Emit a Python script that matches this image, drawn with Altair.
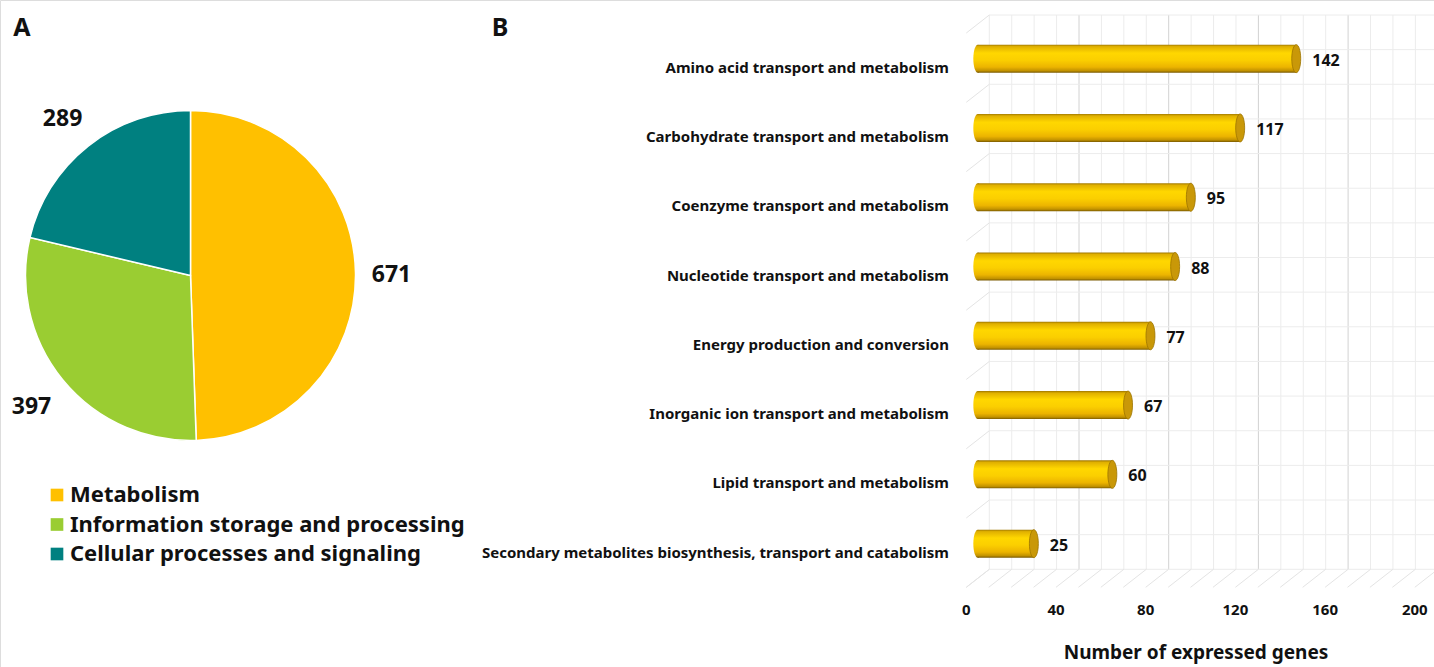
import altair as alt
import pandas as pd

# ---- Panel A: COG functional groups ----
groups = ["Metabolism", "Information storage and processing", "Cellular processes and signaling"]
group_counts = [671, 397, 289]
group_colors = ["#FFC000", "#9ACD32", "#008080"]

# ---- Panel B: metabolism sub-categories ----
categories = [
    "Amino acid transport and metabolism",
    "Carbohydrate transport and metabolism",
    "Coenzyme transport and metabolism",
    "Nucleotide transport and metabolism",
    "Energy production and conversion",
    "Inorganic ion transport and metabolism",
    "Lipid transport and metabolism",
    "Secondary metabolites biosynthesis, transport and catabolism",
]
gene_counts = [142, 117, 95, 88, 77, 67, 60, 25]
x_tick_values = [0, 40, 80, 120, 160, 200]
x_title = "Number of expressed genes"

FONT = "Noto Sans"
INK = "#111111"

# Scales for the 3D bar panel (back wall is the reference plane)
X_SCALE = alt.Scale(domain=[0, 200], range=[989.3, 1437.8], nice=False, zero=False, padding=0)
Y_SCALE = alt.Scale(domain=[0, 8], range=[15, 569.3], nice=False, zero=False, padding=0)
DEPTH_X, DEPTH_Y = -23, 18          # back wall -> front edge
MID_X, MID_Y = -11.5, 9             # back wall -> bar plane

pie_df = pd.DataFrame({"group": groups, "count": group_counts, "idx": range(len(groups))})
bar_df = pd.DataFrame({
    "category": categories,
    "n": gene_counts,
    "pos": [i + 0.5 for i in range(len(categories))],
})
bar_df["zero"] = 0

minor_x = list(range(0, 201, 10))
vgrid_df = pd.DataFrame({"v": minor_x, "y0": 0, "y1": 8})
hgrid_df = pd.DataFrame({"v": [i / 2 for i in range(17)], "x0": 0, "x1": 200})
side_df = pd.DataFrame({"v": list(range(9)), "x0": 0})
floor_df = pd.DataFrame({"v": minor_x, "yb": 8})
tick_df = pd.DataFrame({"v": x_tick_values, "label": [str(t) for t in x_tick_values]})

# ---------------- pie ----------------
pie = alt.Chart(pie_df).mark_arc(outerRadius=165, stroke="white", strokeWidth=1.5).encode(
    theta=alt.Theta("count:Q", stack=True),
    color=alt.Color(
        "group:N",
        scale=alt.Scale(domain=groups, range=group_colors),
        legend=alt.Legend(
            title=None, orient="none", legendX=46, legendY=484,
            symbolType="square", symbolSize=160, symbolStrokeWidth=0,
            labelFont=FONT, labelFontSize=22, labelFontWeight="bold", labelColor=INK,
            labelOffset=2, rowPadding=7.5, padding=0, labelLimit=600,
        ),
    ),
    order=alt.Order("idx:Q"),
    x=alt.value(190.5),
    y=alt.value(275.5),
)
pie_labels = alt.Chart(pie_df).mark_text(
    radius=203, font=FONT, fontSize=23, fontWeight="bold", color=INK
).encode(
    theta=alt.Theta("count:Q", stack=True),
    order=alt.Order("idx:Q"),
    text=alt.Text("count:Q"),
    x=alt.value(188.5),
    y=alt.value(278.5),
)

# ---------------- 3D grid walls ----------------
vgrid = alt.Chart(vgrid_df).mark_rule(strokeWidth=1).encode(
    x=alt.X("v:Q", scale=X_SCALE, axis=None),
    y=alt.Y("y0:Q", scale=Y_SCALE, axis=None),
    y2="y1:Q",
    color=alt.condition("datum.v % 40 == 0 && datum.v > 0", alt.value("#d2d2d2"), alt.value("#ececec")),
)
hgrid = alt.Chart(hgrid_df).mark_rule(strokeWidth=1, color="#ececec").encode(
    x=alt.X("x0:Q", scale=X_SCALE, axis=None),
    x2="x1:Q",
    y=alt.Y("v:Q", scale=Y_SCALE, axis=None),
)
side = alt.Chart(side_df).mark_rule(
    strokeWidth=1, color="#e4e4e4", x2Offset=DEPTH_X, y2Offset=DEPTH_Y
).encode(
    x=alt.X("x0:Q", scale=X_SCALE, axis=None), x2="x0:Q",
    y=alt.Y("v:Q", scale=Y_SCALE, axis=None), y2="v:Q",
)
floor = alt.Chart(floor_df).mark_rule(
    strokeWidth=1, color="#e4e4e4", x2Offset=DEPTH_X, y2Offset=DEPTH_Y
).encode(
    x=alt.X("v:Q", scale=X_SCALE, axis=None), x2="v:Q",
    y=alt.Y("yb:Q", scale=Y_SCALE, axis=None), y2="yb:Q",
)

# ---------------- cylinders ----------------
cyl_fill = alt.LinearGradient(
    gradient="linear", x1=0, x2=0, y1=0, y2=1,
    stops=[
        alt.GradientStop(offset=0.0, color="#a07800"),
        alt.GradientStop(offset=0.07, color="#e0b000"),
        alt.GradientStop(offset=0.3, color="#ffd700"),
        alt.GradientStop(offset=0.55, color="#fbcf00"),
        alt.GradientStop(offset=0.8, color="#ecb400"),
        alt.GradientStop(offset=0.93, color="#c29200"),
        alt.GradientStop(offset=1.0, color="#7a5a00"),
    ],
)
ELLIPSE = ("M0,-1 C0.177,-1 0.32,-0.552 0.32,0 C0.32,0.552 0.177,1 0,1 "
           "C-0.177,1 -0.32,0.552 -0.32,0 C-0.32,-0.552 -0.177,-1 0,-1 Z")

left_end = alt.Chart(bar_df).mark_point(
    shape=ELLIPSE, size=784, filled=True, fill=cyl_fill, opacity=1, strokeWidth=0,
    xOffset=MID_X, yOffset=MID_Y,
).encode(
    x=alt.X("zero:Q", scale=X_SCALE, axis=None),
    y=alt.Y("pos:Q", scale=Y_SCALE, axis=None),
)
body = alt.Chart(bar_df).mark_bar(
    orient="horizontal", size=28, color=cyl_fill,
    xOffset=MID_X, x2Offset=MID_X, yOffset=MID_Y, y2Offset=MID_Y,
).encode(
    x=alt.X("n:Q", scale=X_SCALE, axis=None, stack=None),
    x2="zero:Q",
    y=alt.Y("pos:Q", scale=Y_SCALE, axis=None),
)
cap = alt.Chart(bar_df).mark_point(
    shape=ELLIPSE, size=784, filled=True, fill="#c99808", stroke="#9c7400",
    strokeWidth=0.8, opacity=1, xOffset=MID_X, yOffset=MID_Y,
).encode(
    x=alt.X("n:Q", scale=X_SCALE, axis=None),
    y=alt.Y("pos:Q", scale=Y_SCALE, axis=None),
)
values = alt.Chart(bar_df).mark_text(
    align="left", baseline="middle", dx=4.5, dy=11,
    font=FONT, fontSize=16, fontWeight="bold", color=INK,
).encode(
    x=alt.X("n:Q", scale=X_SCALE, axis=None),
    y=alt.Y("pos:Q", scale=Y_SCALE, axis=None),
    text="n:Q",
)
cat_labels = alt.Chart(bar_df).mark_text(
    align="right", baseline="middle", dy=DEPTH_Y,
    font=FONT, fontSize=15, fontWeight="bold", color=INK,
).encode(
    x=alt.value(949),
    y=alt.Y("pos:Q", scale=Y_SCALE, axis=None),
    text="category:N",
)
tick_labels = alt.Chart(tick_df).mark_text(
    align="center", baseline="middle", dx=DEPTH_X,
    font=FONT, fontSize=15, fontWeight="bold", color=INK,
).encode(
    x=alt.X("v:Q", scale=X_SCALE, axis=None),
    y=alt.value(610),
    text="label:N",
)
axis_title = alt.Chart(pd.DataFrame({"t": [x_title]})).mark_text(
    align="center", baseline="middle", font=FONT, fontSize=19, fontWeight="bold", color=INK,
).encode(x=alt.value(1196), y=alt.value(653), text="t:N")

panel_tags = alt.Chart(pd.DataFrame({"t": ["A", "B"], "px": [22, 500]})).mark_text(
    align="center", baseline="middle", font=FONT, fontSize=25, fontWeight="bold", color=INK,
).encode(x=alt.X("px:Q", scale=None, axis=None), y=alt.value(28), text="t:N")

chart = alt.layer(
    vgrid, hgrid, side, floor,
    left_end, body, cap, values, cat_labels, tick_labels, axis_title,
    pie, pie_labels, panel_tags,
).properties(
    width=1434, height=667, padding=0,
    autosize=alt.AutoSizeParams(type="none"),
).configure_view(stroke=None).configure(background="white")

chart.save("out.html", embed_options={"renderer": "svg", "actions": False})
